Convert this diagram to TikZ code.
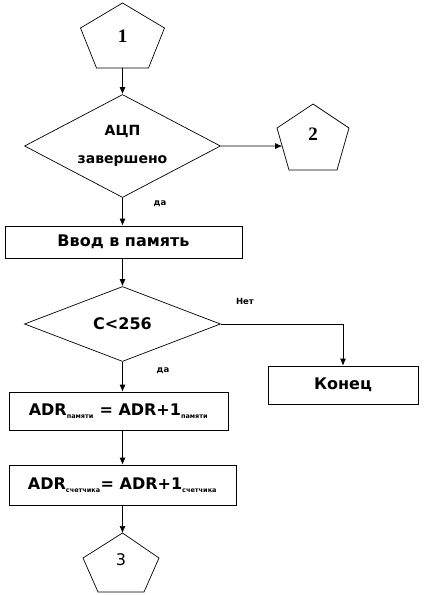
\documentclass[tikz,border=0pt]{standalone}
\usepackage{fontspec}
\setmainfont{DejaVu Sans}
\newfontfamily\numfont{Liberation Serif}
\usetikzlibrary{shapes.geometric,arrows.meta}
\begin{document}
\begin{tikzpicture}[x=1pt,y=-1pt,
    line/.style={line width=0.7pt},
    arr/.style={line width=0.7pt,-{Latex[length=7pt,width=6pt]}},
    box/.style={draw,line width=0.7pt,rectangle,inner sep=0pt,
      font=\bfseries\fontsize{16}{18}\selectfont},
    cond/.style={draw,line width=0.7pt,diamond,inner sep=0pt,align=center,
      font=\bfseries\fontsize{14}{28}\selectfont},
    num/.style={inner sep=0pt,font=\numfont\bfseries\fontsize{19}{19}\selectfont},
    lbl/.style={inner sep=0pt,font=\bfseries\fontsize{8.5}{8.5}\selectfont}]
    \useasboundingbox (0,0) rectangle (425,595);
    % connectors
    \node[num] (p1) at (122.5,36) {1};
    \draw[line,shift={(p1.center)}] (0,-33) -- (42,-8) -- (26,32)
      -- coordinate (p1b) (-26,32) -- (-42,-8) -- cycle;
    \node[cond,aspect=1.9,minimum width=196pt,minimum height=103pt] (d1) at (122.5,146)
      {АЦП\\завершено};
    \node[num] (p2) at (313,134) {2};
    \draw[line,shift={(p2.center)}] (0,-30) -- (36,-6) -- (24,36) -- (-24,36)
      -- coordinate[pos=0.57] (p2l) (-36,-6) -- cycle;
    \node[box,minimum width=237pt,minimum height=32pt] (b1) at (123.5,242) {Ввод в память};
    \node[cond,aspect=2.6,minimum width=196pt,minimum height=75pt,
      font=\bfseries\fontsize{16}{18}\selectfont] (d2) at (122.5,324) {C<256};
    \node[box,minimum width=150pt,minimum height=38pt] (e) at (343,385) {Конец};
    \node[box,minimum width=219pt,minimum height=38pt] (b2) at (118.5,411)
      {ADR\textsubscript{\fontsize{6.5}{6.5}\selectfont памяти} = ADR+1\textsubscript{\fontsize{6.5}{6.5}\selectfont памяти}};
    \node[box,minimum width=227pt,minimum height=40pt] (b3) at (122.5,485)
      {ADR\textsubscript{\fontsize{6.5}{6.5}\selectfont счетчика}= ADR+1\textsubscript{\fontsize{6.5}{6.5}\selectfont счетчика}};
    \node[inner sep=0pt,font=\fontsize{16}{16}\selectfont] (p3) at (121,560) {3};
    \draw[line,shift={(p3.center)}] (1.5,-27) coordinate (p3t) -- (38,-2) -- (23,32)
      -- (-23,32) -- (-38,-2) -- cycle;
    \node[lbl] at (160,204) {да};
    \node[lbl] at (245,301) {Нет};
    \node[lbl] at (163,371) {да};
    \draw[arr] (p1b) -- (d1.north);
    \draw[arr] (d1.east) -- (p2l);
    \draw[arr] (d1.south) -- (d1.south |- b1.north);
    \draw[arr] (d1.south |- b1.south) -- (d2.north);
    \draw[arr] (d2.east) -| (e.north);
    \draw[arr] (d2.south) -- (d2.south |- b2.north);
    \draw[arr] (d2.south |- b2.south) -- (d2.south |- b3.north);
    \draw[arr] (d2.south |- b3.south) -- (p3t);
\end{tikzpicture}
\end{document}
